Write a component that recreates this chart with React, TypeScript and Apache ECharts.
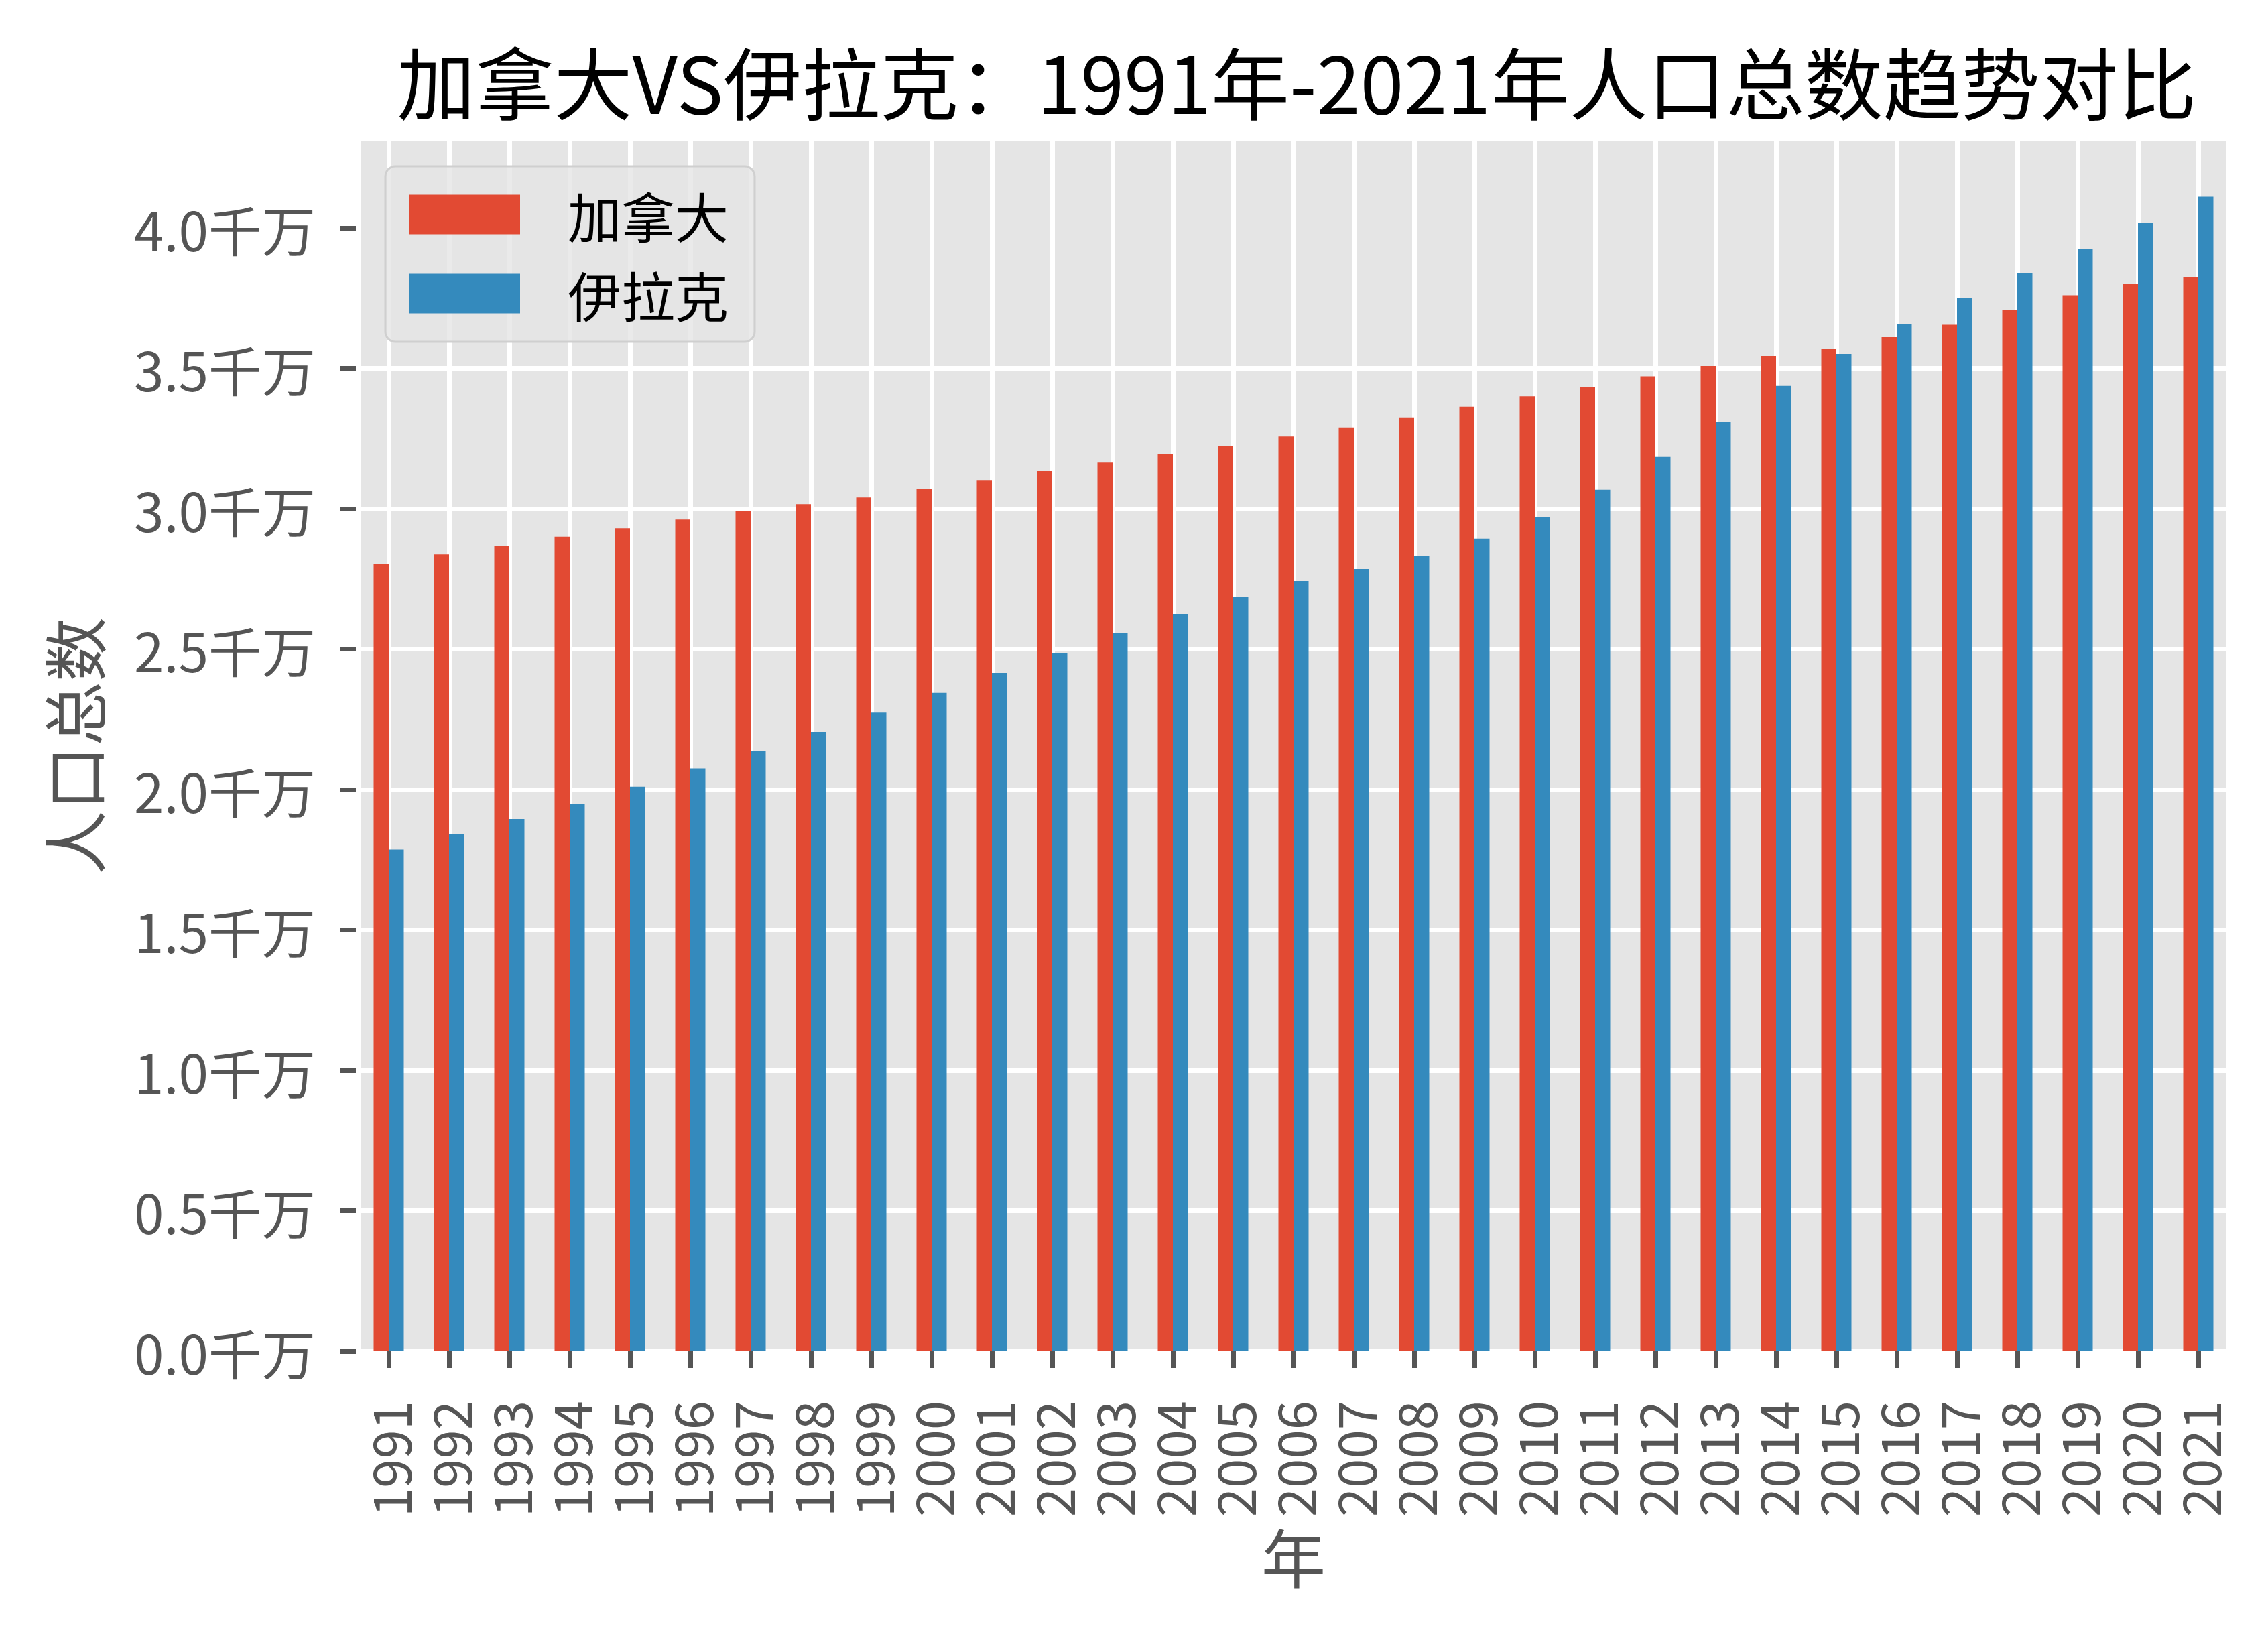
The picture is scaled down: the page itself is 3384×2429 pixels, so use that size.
import React, { useEffect, useRef } from "react";
import * as echarts from "echarts";

const years = ["1991","1992","1993","1994","1995","1996","1997","1998","1999","2000","2001","2002","2003","2004","2005","2006","2007","2008","2009","2010","2011","2012","2013","2014","2015","2016","2017","2018","2019","2020","2021"];
// population in millions
const canada = [28.04, 28.37, 28.68, 29.00, 29.30, 29.61, 29.91, 30.16, 30.40, 30.69, 31.02, 31.36, 31.64, 31.94, 32.24, 32.57, 32.89, 33.25, 33.63, 34.00, 34.34, 34.71, 35.08, 35.44, 35.70, 36.11, 36.55, 37.07, 37.60, 38.01, 38.25];
const iraq = [17.86, 18.40, 18.95, 19.50, 20.10, 20.75, 21.38, 22.05, 22.74, 23.44, 24.15, 24.87, 25.58, 26.25, 26.87, 27.42, 27.85, 28.33, 28.93, 29.69, 30.67, 31.84, 33.10, 34.37, 35.51, 36.56, 37.49, 38.38, 39.26, 40.17, 41.11];
const yTicks = [0, 5, 10, 15, 20, 25, 30, 35, 40];
const seriesNames = ["加拿大", "伊拉克"];
const titleText = "加拿大VS伊拉克：1991年-2021年人口总数趋势对比";

const FONT = "'Noto Sans CJK SC', 'Noto Sans', sans-serif";

export default function App() {
  const ref = useRef<HTMLDivElement>(null);
  useEffect(() => {
    document.body.style.margin = "0";
    document.body.style.overflow = "hidden";
    const chart = echarts.init(ref.current!, null, { renderer: "svg" });
    chart.setOption({
      animation: false,
      backgroundColor: "#ffffff",
      textStyle: { fontFamily: FONT },
      title: {
        text: titleText,
        left: 1930,
        top: 114,
        textAlign: "center",
        textVerticalAlign: "middle",
        textStyle: { fontSize: 117, fontWeight: "normal", color: "#000000", fontFamily: FONT },
      },
      graphic: [
        {
          type: "rect",
          z: -10,
          silent: true,
          shape: { x: 539, y: 210, width: 2782, height: 1806 },
          style: { fill: "#E5E5E5" },
        },
      ],
      legend: {
        left: 575,
        top: 248,
        orient: "vertical",
        icon: "rect",
        itemWidth: 166,
        itemHeight: 59,
        itemGap: 38,
        padding: [32, 39, 32, 35],
        backgroundColor: "rgba(229,229,229,0.8)",
        borderColor: "rgba(204,204,204,0.9)",
        borderWidth: 3,
        borderRadius: 15,
        textStyle: { fontSize: 80, lineHeight: 80, color: "#000000", fontFamily: FONT, padding: [0, 0, 0, 66] },
        data: seriesNames,
      },
      grid: { left: 535, right: 59, top: 210, bottom: 413, containLabel: false },
      xAxis: {
        type: "category",
        data: years,
        boundaryGap: true,
        offset: 6,
        axisLine: { show: false },
        axisTick: { show: true, alignWithLabel: true, length: 25, lineStyle: { color: "#555555", width: 7 } },
        axisLabel: { rotate: 90, margin: 68, fontSize: 78, color: "#555555", fontFamily: FONT, interval: 0 },
        splitLine: { show: true, alignWithLabel: true, lineStyle: { color: "#ffffff", width: 7 } },
        name: "年",
        nameLocation: "middle",
        nameGap: 250,
        nameTextStyle: { fontSize: 96, color: "#555555", fontFamily: FONT },
      },
      yAxis: {
        type: "value",
        min: 0,
        max: 43.1,
        interval: 5,
        offset: 4,
        axisLine: { show: false },
        axisTick: { show: true, length: 24, lineStyle: { color: "#555555", width: 7 }, customValues: yTicks },
        axisLabel: {
          margin: 60,
          fontSize: 80,
          color: "#555555",
          fontFamily: FONT,
          customValues: yTicks,
          formatter: (v: number) => (v / 10).toFixed(1) + "千万",
        },
        splitLine: { show: true, showMaxLine: false, lineStyle: { color: "#ffffff", width: 7 } },
        name: "人口总数",
        nameLocation: "middle",
        nameRotate: 90,
        nameGap: 376,
        nameTextStyle: { fontSize: 96, color: "#555555", fontFamily: FONT },
      },
      series: [
        {
          name: seriesNames[0],
          type: "bar",
          data: canada,
          barWidth: 22.5,
          barGap: "0%",
          itemStyle: { color: "#E24A33" },
        },
        {
          name: seriesNames[1],
          type: "bar",
          data: iraq,
          barWidth: 22.5,
          barGap: "0%",
          itemStyle: { color: "#348ABD" },
        },
      ],
    });
    return () => chart.dispose();
  }, []);
  return <div ref={ref} style={{ width: 3384, height: 2429 }} />;
}
